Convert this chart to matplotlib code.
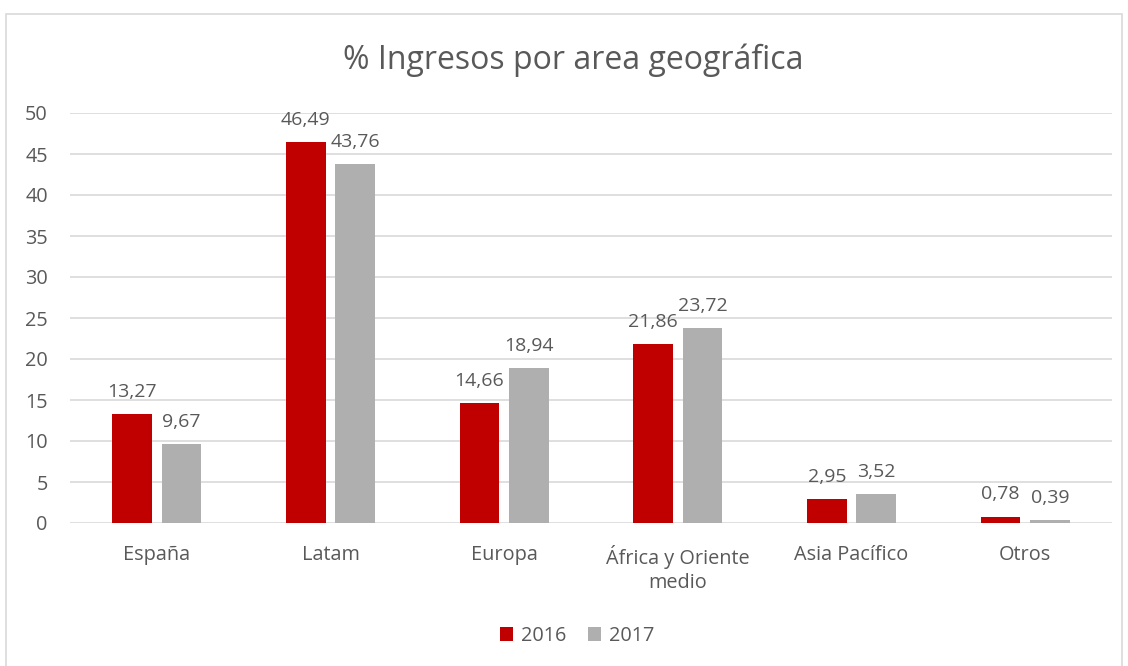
import numpy as np
import matplotlib.pyplot as plt
from matplotlib.patches import Rectangle

categories = ['España', 'Latam', 'Europa', 'África y Oriente\nmedio', 'Asia Pacífico', 'Otros']
values_2016 = [13.27, 46.49, 14.66, 21.86, 2.95, 0.78]
values_2017 = [9.67, 43.76, 18.94, 23.72, 3.52, 0.39]
series_labels = ['2016', '2017']

plt.rcParams['font.family'] = ['Open Sans', 'DejaVu Sans']
text_color = '#595959'
red = '#C00000'
gray = '#AFAFB0'

fig = plt.figure(figsize=(11.28, 6.66), dpi=100)
fig.patches.append(Rectangle((6 / 1128, -0.01), 1116 / 1128, 1 - 14 / 666 + 0.01,
                             transform=fig.transFigure, fill=False,
                             edgecolor='#D9D9D9', linewidth=1.2))

ax = fig.add_axes([70 / 1128, 1 - 523 / 666, 1042 / 1128, 410 / 666])
x = np.arange(len(categories))
w = 0.23
off = 0.142
b1 = ax.bar(x - off, values_2016, w, color=red, label=series_labels[0], zorder=2)
b2 = ax.bar(x + off, values_2017, w, color=gray, label=series_labels[1], zorder=2)

for bars, vals in ((b1, values_2016), (b2, values_2017)):
    for r, v in zip(bars, vals):
        ax.text(r.get_x() + r.get_width() / 2, v + 1.6, f'{v:.2f}'.replace('.', ','),
                ha='center', va='bottom', fontsize=14, color=text_color)

ax.set_xlim(-0.5, len(categories) - 0.5)
ax.set_ylim(0, 50)
ax.set_yticks(range(0, 51, 5))
ax.set_xticks(x)
ax.set_xticklabels(categories, fontsize=14.3, color=text_color, linespacing=1.25)
ax.tick_params(axis='y', labelsize=14.3, labelcolor=text_color, length=0, pad=16)
ax.tick_params(axis='x', length=0, pad=16)
ax.grid(axis='y', color='#D9D9D9', linewidth=1.2, zorder=0)
ax.set_axisbelow(True)
for s in ax.spines.values():
    s.set_visible(False)

fig.text(573 / 1128, 1 - 60 / 666, '% Ingresos por area geográfica', ha='center', va='center',
         fontsize=23, color=text_color)

fig.legend(handles=[b1, b2], loc='center', bbox_to_anchor=(577 / 1128, 1 - 636 / 666),
           ncol=2, frameon=False, fontsize=14.3, labelcolor=text_color,
           handlelength=0.65, handleheight=0.65, handletextpad=0.4, columnspacing=1.1)

plt.savefig('out.png', dpi=100)
